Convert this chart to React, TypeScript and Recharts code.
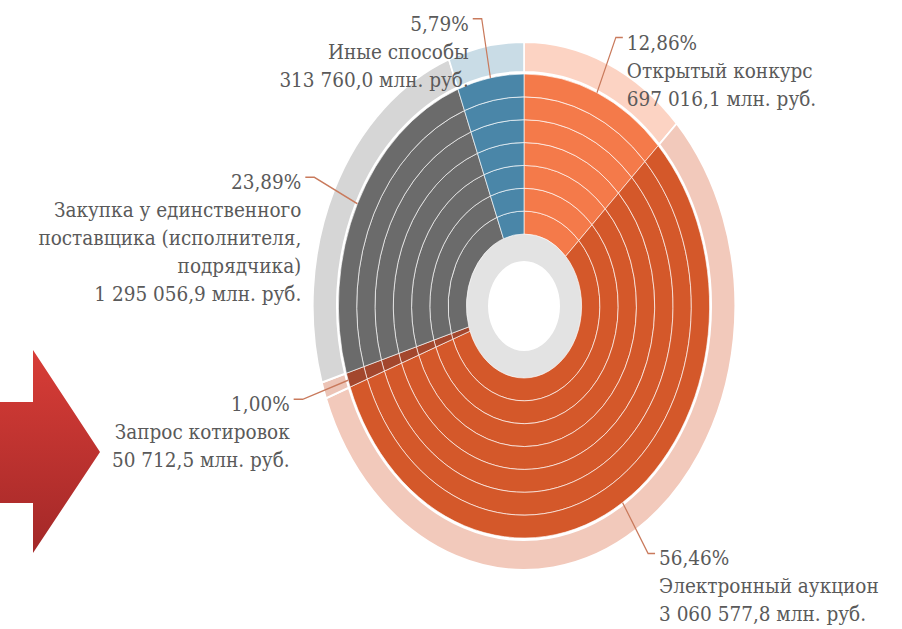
import { Cell, Pie, PieChart } from "recharts";

// способы закупок, по часовой стрелке от 12 часов
const CATEGORIES = [
  "Открытый конкурс",
  "Электронный аукцион",
  "Запрос котировок",
  "Закупка у единственного поставщика (исполнителя, подрядчика)",
  "Иные способы",
];
const NAME_LINES = [
  ["Открытый конкурс"],
  ["Электронный аукцион"],
  ["Запрос котировок"],
  ["Закупка у единственного", "поставщика (исполнителя,", "подрядчика)"],
  ["Иные способы"],
];
const SHARES = [12.86, 56.46, 1.0, 23.89, 5.79];
const AMOUNTS = [697016.1, 3060577.8, 50712.5, 1295056.9, 313760.0];

const DARK = ["#f47a4a", "#d4582a", "#a3472d", "#6b6b6b", "#4a86a8"];
const LIGHT = ["#fcd3c3", "#f2c9bb", "#ecc4b6", "#d6d6d6", "#c9dce6"];

const data = CATEGORIES.map((name, i) => ({ name, share: SHARES[i], amount: AMOUNTS[i] }));

// the picture is an ellipse: draw a circle and squeeze it horizontally
const SX = 0.8;
const W = 902;
const H = 629;
const SVG_W = Math.round(W / SX);
const CX = 655;
const CY = 306;
const BANDS = 7;
const BAND_IN = 72;
const BAND_OUT = 232;
const RING_IN = 234;
const RING_OUT = 264;

const FONT = "'DejaVu Serif Condensed', 'DejaVu Serif', serif";

const fmtShare = (v: number) => v.toFixed(2).replace(".", ",") + "%";
const fmtAmount = (v: number) => {
  const [int, dec] = v.toFixed(1).split(".");
  return `${int.replace(/\B(?=(\d{3})+(?!\d))/g, " ")},${dec} млн. руб.`;
};

const renderLabel = (props: any) => {
  const { cx, cy, midAngle, index } = props;
  const rad = Math.PI / 180;
  const cos = Math.cos(-midAngle * rad);
  const sin = Math.sin(-midAngle * rad);
  const ax = cx + BAND_OUT * cos;
  const ay = cy + BAND_OUT * sin;
  const ex = cx + 292 * cos;
  const ey = cy + 292 * sin;
  const right = cos >= 0;
  const hx = ex + (right ? 7 : -9) / SX;
  const tx = hx + (right ? 4 : -4) / SX;
  const lines = [fmtShare(SHARES[index]), ...NAME_LINES[index], fmtAmount(AMOUNTS[index])];
  return (
    <g key={`lbl-${index}`}>
      <polyline
        points={`${ax},${ay} ${ex},${ey} ${hx},${ey}`}
        fill="none"
        stroke="#c97a5c"
        strokeWidth={1.5}
      />
      <text
        transform={`translate(${tx},${ey + 12}) scale(${1 / SX},1)`}
        textAnchor={right ? "start" : "end"}
        fill="#5a5a5a"
        style={{ fontFamily: FONT, fontSize: 20.5 }}
      >
        {lines.map((l, i) => (
          <tspan key={i} x={0} dy={i === 0 ? 0 : 28}>
            {l}
          </tspan>
        ))}
      </text>
    </g>
  );
};

function Arrow() {
  return (
    <svg width={110} height={220} style={{ position: "absolute", left: 0, top: 345 }}>
      <defs>
        <linearGradient id="arrowFill" x1="0" y1="0" x2="0" y2="1">
          <stop offset="0%" stopColor="#d83d37" />
          <stop offset="100%" stopColor="#a32828" />
        </linearGradient>
      </defs>
      <polygon points="0,57 33,57 33,5 100,107 33,208 33,158 0,158" fill="url(#arrowFill)" />
    </svg>
  );
}

export default function App() {
  const bandW = (BAND_OUT - BAND_IN) / BANDS;
  const bands = Array.from({ length: BANDS }, (_, i) => i);
  return (
    <div style={{ position: "fixed", left: 0, top: 0, width: W, height: H, overflow: "hidden", background: "#fff" }}>
      <div style={{ width: SVG_W, height: H, transform: `scaleX(${SX})`, transformOrigin: "0 0" }}>
        <PieChart width={SVG_W} height={H} margin={{ top: 0, right: 0, bottom: 0, left: 0 }}>
          <Pie
            data={[{ name: "hub", share: 100 }]}
            dataKey="share"
            cx={CX}
            cy={CY}
            innerRadius={45}
            outerRadius={BAND_IN}
            fill="#e3e3e3"
            stroke="none"
            isAnimationActive={false}
          />
          {bands.map((b) => (
            <Pie
              key={b}
              data={data}
              dataKey="share"
              cx={CX}
              cy={CY}
              startAngle={90}
              endAngle={-270}
              innerRadius={BAND_IN + b * bandW}
              outerRadius={BAND_IN + (b + 1) * bandW}
              stroke="#fff"
              strokeWidth={1}
              strokeOpacity={0.7}
              isAnimationActive={false}
            >
              {data.map((d, i) => (
                <Cell key={d.name} fill={DARK[i]} />
              ))}
            </Pie>
          ))}
          <Pie
            data={data}
            dataKey="share"
            cx={CX}
            cy={CY}
            startAngle={90}
            endAngle={-270}
            innerRadius={RING_IN}
            outerRadius={RING_OUT}
            stroke="#fff"
            strokeWidth={2}
            label={renderLabel}
            labelLine={false}
            isAnimationActive={false}
          >
            {data.map((d, i) => (
              <Cell key={d.name} fill={LIGHT[i]} />
            ))}
          </Pie>
        </PieChart>
      </div>
      <Arrow />
    </div>
  );
}
